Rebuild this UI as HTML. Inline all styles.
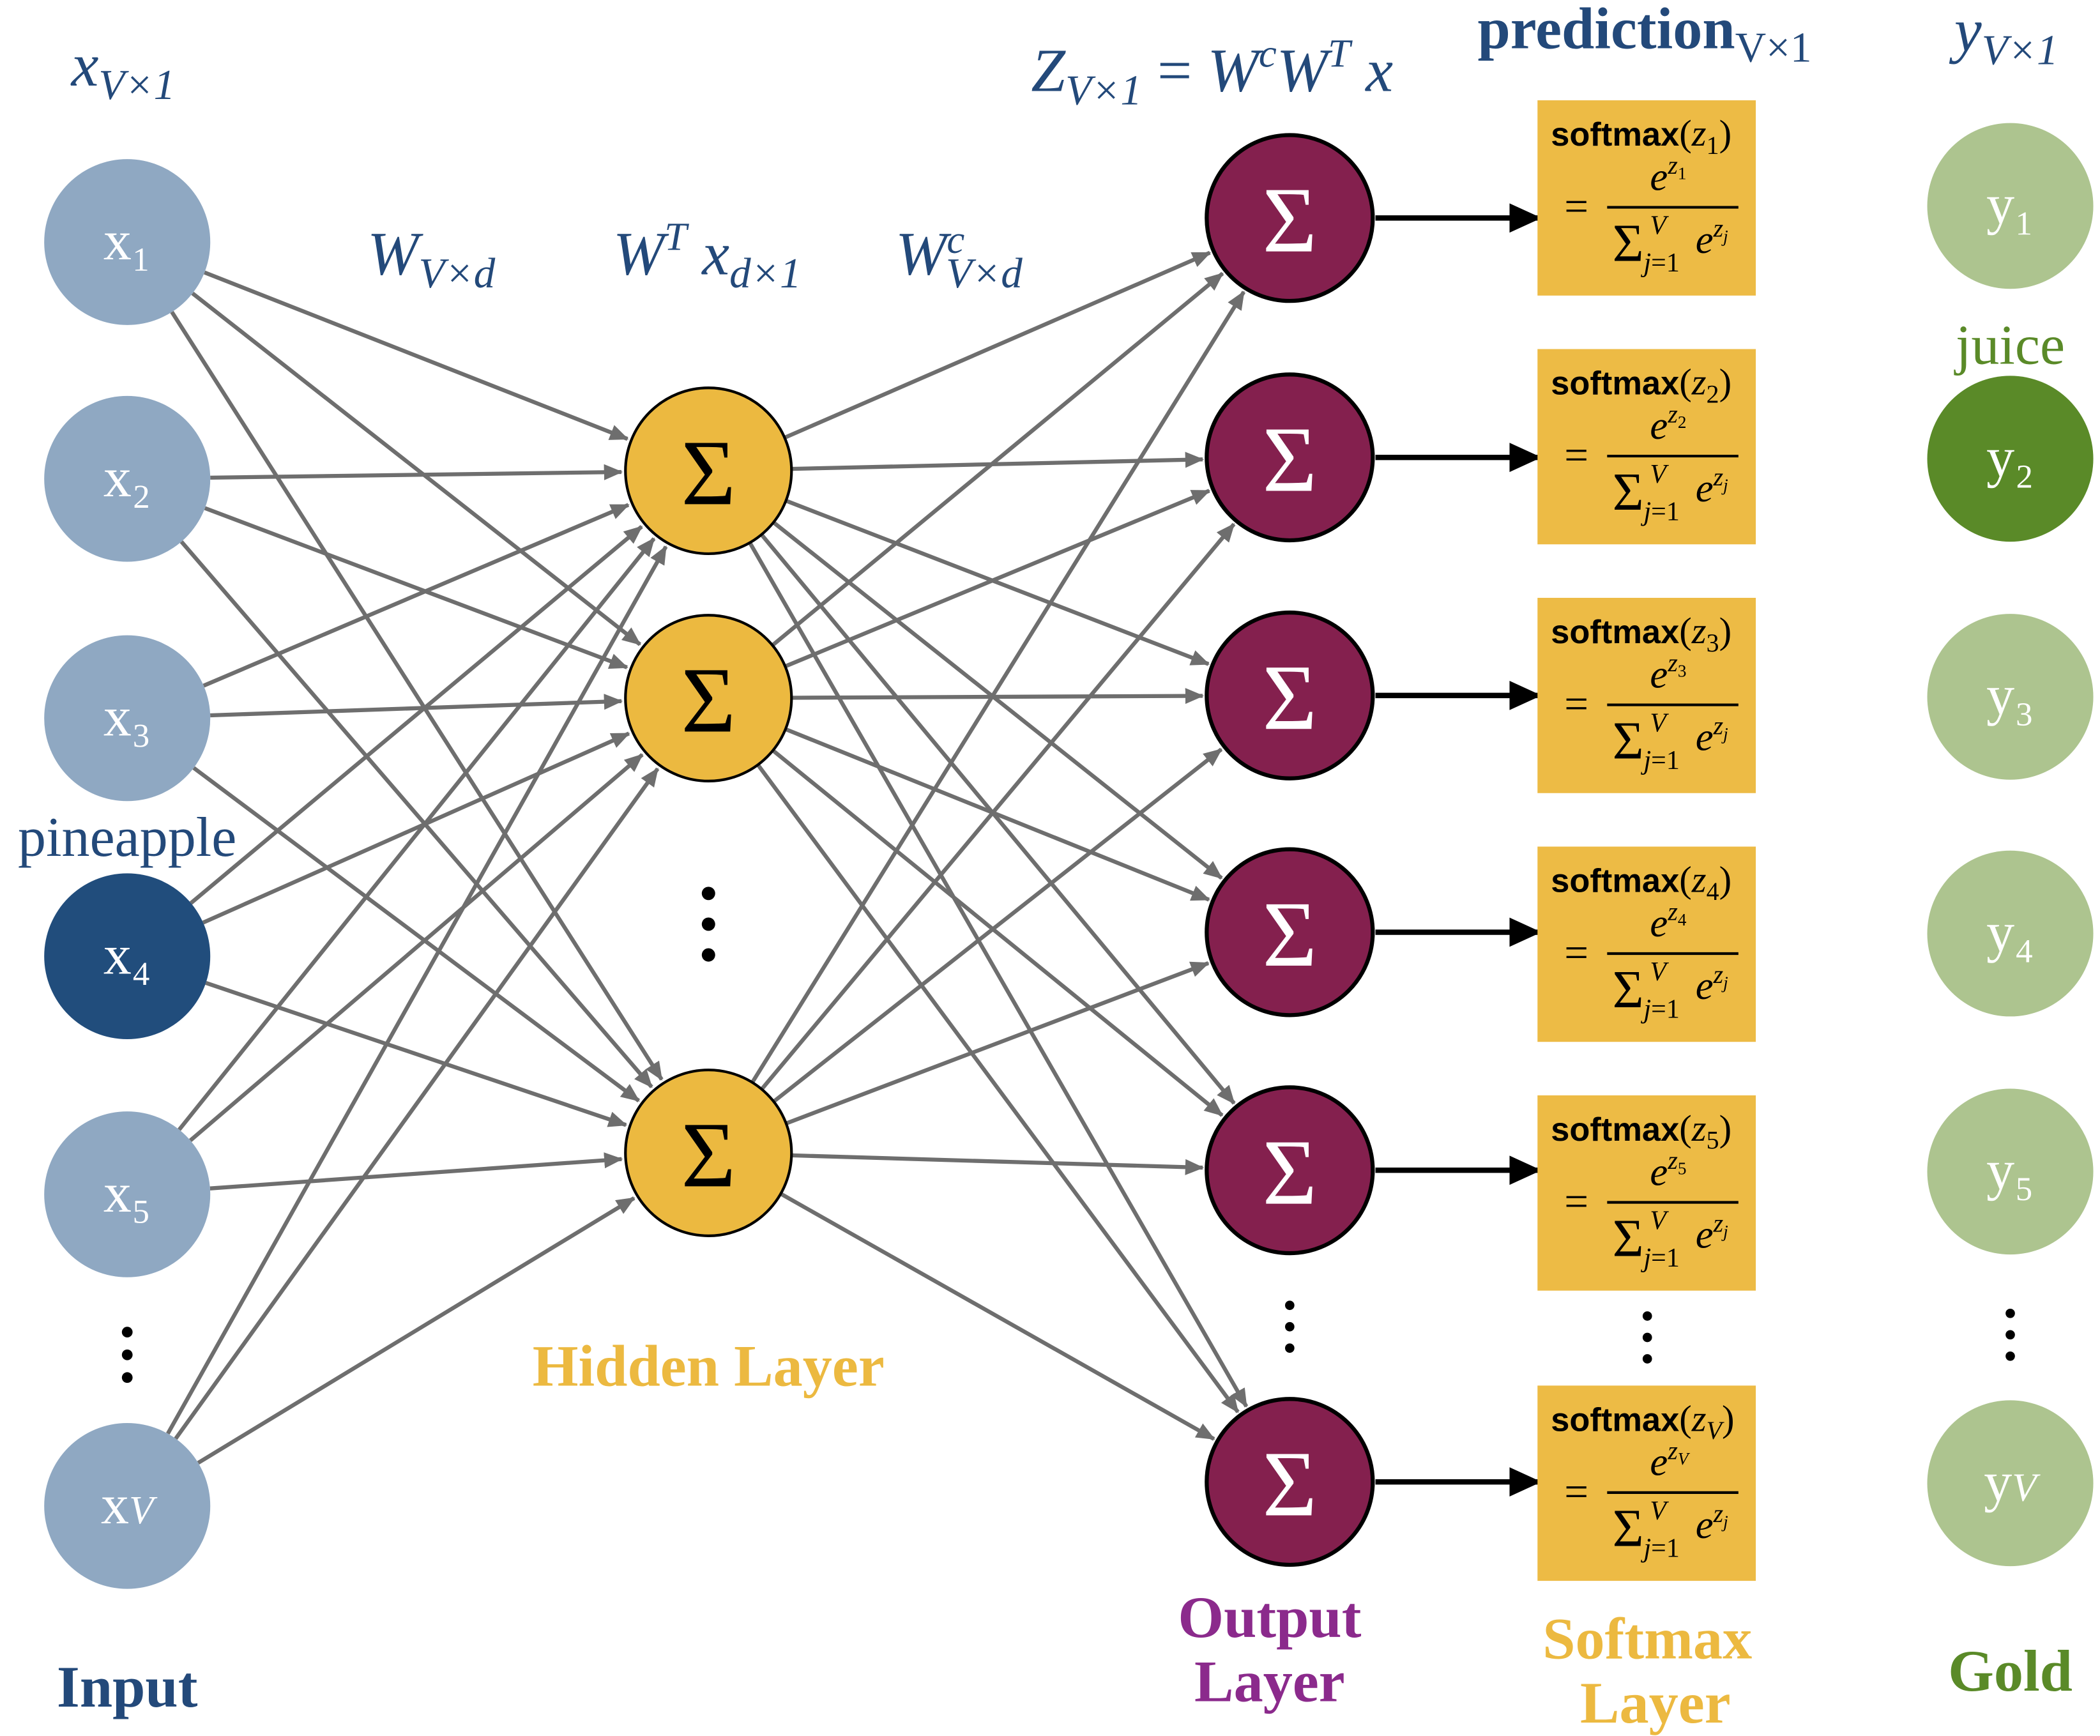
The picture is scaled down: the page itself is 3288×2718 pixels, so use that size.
<!DOCTYPE html>
<html><head><meta charset="utf-8"><style>
html,body{margin:0;padding:0;background:#fff;}
svg{display:block;}
.lab{font-family:"Liberation Serif",serif;font-style:italic;fill:#23497a;}
</style></head><body>
<svg id="s" width="3288" height="2718" viewBox="0 0 1568 1298" preserveAspectRatio="none" xmlns="http://www.w3.org/2000/svg">
<defs>
<marker id="ag" markerWidth="14" markerHeight="12" refX="13" refY="6" orient="auto" markerUnits="userSpaceOnUse"><path d="M0,0 L14,6 L0,12 Z" fill="#6e6e6e"/></marker>
<marker id="ab" markerWidth="24" markerHeight="22" refX="23" refY="11" orient="auto" markerUnits="userSpaceOnUse"><path d="M0,0 L24,11 L0,22 Z" fill="#000"/></marker>
</defs>
<g id="lines"></g>
<g font-family="Liberation Serif, serif" font-size="42" fill="#fff" text-anchor="middle">
<circle cx="95" cy="181" r="62" fill="#8fa8c2"/><text x="95" y="194">x₁</text>
<circle cx="95" cy="358" r="62" fill="#8fa8c2"/><text x="95" y="371">x₂</text>
<circle cx="95" cy="537" r="62" fill="#8fa8c2"/><text x="95" y="550">x₃</text>
<circle cx="95" cy="715" r="62" fill="#214d7c"/><text x="95" y="728">x₄</text>
<circle cx="95" cy="893" r="62" fill="#8fa8c2"/><text x="95" y="906">x₅</text>
<circle cx="95" cy="1126" r="62" fill="#8fa8c2"/><text x="95" y="1139">x<tspan font-style="italic" font-size="30">V</tspan></text>
</g>
<g fill="#000"><circle cx="95" cy="996" r="4"/><circle cx="95" cy="1013" r="4"/><circle cx="95" cy="1030" r="4"/></g>
<g font-family="Liberation Serif, serif" font-size="70" text-anchor="middle">
<circle cx="529" cy="352" r="62" fill="#ecb940" stroke="#000" stroke-width="2"/><text x="529" y="377">Σ</text>
<circle cx="529" cy="522" r="62" fill="#ecb940" stroke="#000" stroke-width="2"/><text x="529" y="547">Σ</text>
<circle cx="529" cy="862" r="62" fill="#ecb940" stroke="#000" stroke-width="2"/><text x="529" y="887">Σ</text>
</g>
<g fill="#000"><circle cx="529" cy="668" r="5"/><circle cx="529" cy="691" r="5"/><circle cx="529" cy="714" r="5"/></g>
<g font-family="Liberation Serif, serif" font-size="70" text-anchor="middle" fill="#fff">
<circle cx="963" cy="163" r="62" fill="#84204e" stroke="#000" stroke-width="3"/><text x="963" y="188">Σ</text>
<circle cx="963" cy="342" r="62" fill="#84204e" stroke="#000" stroke-width="3"/><text x="963" y="367">Σ</text>
<circle cx="963" cy="520" r="62" fill="#84204e" stroke="#000" stroke-width="3"/><text x="963" y="545">Σ</text>
<circle cx="963" cy="697" r="62" fill="#84204e" stroke="#000" stroke-width="3"/><text x="963" y="722">Σ</text>
<circle cx="963" cy="875" r="62" fill="#84204e" stroke="#000" stroke-width="3"/><text x="963" y="900">Σ</text>
<circle cx="963" cy="1108" r="62" fill="#84204e" stroke="#000" stroke-width="3"/><text x="963" y="1133">Σ</text>
</g>
<g fill="#000"><circle cx="963" cy="976" r="3.5"/><circle cx="963" cy="992" r="3.5"/><circle cx="963" cy="1008" r="3.5"/>
<circle cx="1230" cy="984" r="3.5"/><circle cx="1230" cy="1000" r="3.5"/><circle cx="1230" cy="1016" r="3.5"/>
<circle cx="1501" cy="982" r="3.5"/><circle cx="1501" cy="998" r="3.5"/><circle cx="1501" cy="1014" r="3.5"/></g>
<g id="boxes"></g>
<g font-family="Liberation Serif, serif" font-size="42" fill="#fff" text-anchor="middle">
<circle cx="1501" cy="154" r="62" fill="#adc48f"/><text x="1501" y="167">y₁</text>
<circle cx="1501" cy="343" r="62" fill="#5a8a28"/><text x="1501" y="356">y₂</text>
<circle cx="1501" cy="521" r="62" fill="#adc48f"/><text x="1501" y="534">y₃</text>
<circle cx="1501" cy="698" r="62" fill="#adc48f"/><text x="1501" y="711">y₄</text>
<circle cx="1501" cy="876" r="62" fill="#adc48f"/><text x="1501" y="889">y₅</text>
<circle cx="1501" cy="1109" r="62" fill="#adc48f"/><text x="1501" y="1122">y<tspan font-style="italic" font-size="30">V</tspan></text>
</g>
<g class="lab" font-size="46" text-anchor="middle">
<text x="92" y="64">x<tspan font-size="32" dy="10">V×1</tspan></text>
<text x="322" y="205">W<tspan font-size="32" dy="10">V×d</tspan></text>
<text x="528" y="205">W<tspan font-size="30" dy="-18">T</tspan><tspan dy="18"> x</tspan><tspan font-size="32" dy="10">d×1</tspan></text>
<text x="716" y="205">W<tspan font-size="30" dy="-16">c</tspan><tspan font-size="32" dx="-14" dy="26">V×d</tspan></text>
<text x="905" y="68">Z<tspan font-size="32" dy="10">V×1</tspan><tspan dy="-10" font-style="normal"> = </tspan>W<tspan font-size="30" dy="-18">c</tspan><tspan dy="18">W</tspan><tspan font-size="30" dy="-18">T</tspan><tspan dy="18"> x</tspan></text>
<text x="1498" y="38">y<tspan font-size="32" dy="10">V×1</tspan></text>
</g>
<g font-family="Liberation Serif, serif" text-anchor="middle" font-weight="bold">
<text x="1228" y="36" font-size="44" fill="#23497a">prediction<tspan font-size="32" font-weight="normal" dy="10">V×1</tspan></text>
<text x="95" y="640" font-size="42" font-weight="normal" fill="#23497a">pineapple</text>
<text x="1501" y="272" font-size="42" font-weight="normal" fill="#5a8a28">juice</text>
<text x="529" y="1036" font-size="44" fill="#ecb940">Hidden Layer</text>
<text x="948" y="1224" font-size="44" fill="#8b2a8c">Output</text>
<text x="948" y="1272" font-size="44" fill="#8b2a8c">Layer</text>
<text x="1230" y="1240" font-size="44" fill="#ecb940">Softmax</text>
<text x="1236" y="1288" font-size="44" fill="#ecb940">Layer</text>
<text x="1501" y="1264" font-size="44" fill="#5a8a28">Gold</text>
<text x="95" y="1276" font-size="44" fill="#23497a">Input</text>
</g>
</svg>
<script>
var NS="http://www.w3.org/2000/svg";
var L=document.getElementById("lines");
function line(x1,y1,x2,y2,attrs){var e=document.createElementNS(NS,"line");e.setAttribute("x1",x1);e.setAttribute("y1",y1);e.setAttribute("x2",x2);e.setAttribute("y2",y2);for(var k in attrs)e.setAttribute(k,attrs[k]);L.appendChild(e);}
var inp=[181,358,537,715,893,1126],hid=[352,522,862],out=[163,342,520,697,875,1108],r=62;
function conn(ax,ay,bx,by){var dx=bx-ax,dy=by-ay,d=Math.sqrt(dx*dx+dy*dy),ux=dx/d,uy=dy/d;
line(ax+ux*r,ay+uy*r,bx-ux*(r+3),by-uy*(r+3),{stroke:"#6e6e6e","stroke-width":3,"marker-end":"url(#ag)"});}
inp.forEach(function(a){hid.forEach(function(b){conn(95,a,529,b);});});
hid.forEach(function(a){out.forEach(function(b){conn(529,a,963,b);});});
out.forEach(function(y){line(1027,y,1150,y,{stroke:"#000","stroke-width":4,"marker-end":"url(#ab)"});});
var B=document.getElementById("boxes");
var tops=[75,261,447,633,819,1036],subs=["1","2","3","4","5","V"];
var h="";
tops.forEach(function(t,i){var x=1148,s=subs[i],it=(s=="V")?' font-style="italic"':'';
h+='<rect x="'+x+'" y="'+t+'" width="163" height="146" fill="#edbb45"/>';
h+='<text x="'+(x+10)+'" y="'+(t+34)+'" font-family="Liberation Sans, sans-serif" font-weight="bold" font-size="25">softmax<tspan font-family="Liberation Serif, serif" font-weight="normal" font-size="28">(<tspan font-style="italic">z</tspan><tspan font-size="19" dy="6"'+it+'>'+s+'</tspan><tspan dy="-6">)</tspan></tspan></text>';
h+='<text x="'+(x+84)+'" y="'+(t+67)+'" font-family="Liberation Serif, serif" font-style="italic" font-size="30">e<tspan font-size="19" dy="-12">z</tspan><tspan font-size="13" dy="4"'+(s=="V"?'':' font-style="normal"')+'>'+s+'</tspan></text>';
h+='<line x1="'+(x+52)+'" y1="'+(t+80)+'" x2="'+(x+150)+'" y2="'+(t+80)+'" stroke="#000" stroke-width="2"/>';
h+='<text x="'+(x+20)+'" y="'+(t+90)+'" font-family="Liberation Serif, serif" font-size="32">=</text>';
h+='<text x="'+(x+56)+'" y="'+(t+120)+'" font-family="Liberation Serif, serif" font-size="40">Σ<tspan font-size="20" font-style="italic" dy="8">j</tspan><tspan font-size="20">=1</tspan></text>';
h+='<text x="'+(x+84)+'" y="'+(t+100)+'" font-family="Liberation Serif, serif" font-style="italic" font-size="20">V</text>';
h+='<text x="'+(x+118)+'" y="'+(t+114)+'" font-family="Liberation Serif, serif" font-style="italic" font-size="30">e<tspan font-size="19" dy="-12">z</tspan><tspan font-size="13" dy="4">j</tspan></text>';
});
B.innerHTML=h;
</script>
</body></html>
